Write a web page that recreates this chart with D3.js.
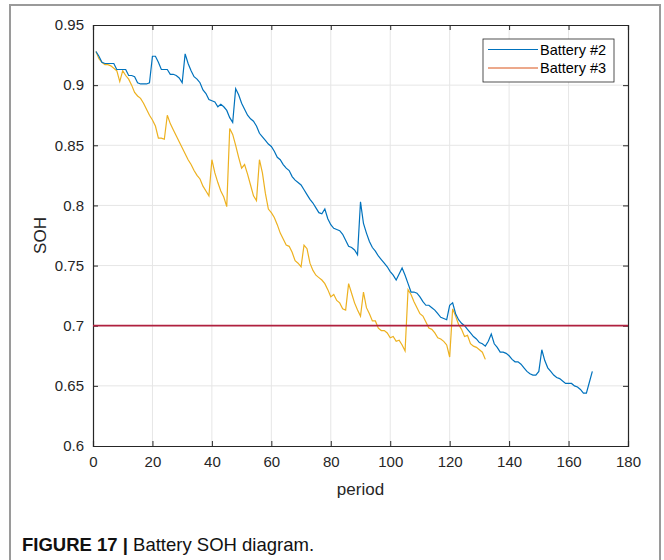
<!DOCTYPE html>
<html>
<head>
<meta charset="utf-8">
<script src="https://cdn.jsdelivr.net/npm/d3@7"></script>
<style>
  html, body { margin: 0; padding: 0; background: #fff; }
  svg { display: block; font-family: "Liberation Sans", Arial, Helvetica, sans-serif; }
</style>
</head>
<body>
<svg id="chart" width="664" height="560"></svg>
<script>
// Battery #2 SOH per period
const periods2 = d3.range(1, 169);
const soh2 = [
  0.928, 0.924, 0.919, 0.918, 0.918, 0.918, 0.918, 0.913, 0.913, 0.913,
  0.913, 0.908, 0.908, 0.907, 0.902, 0.901, 0.901, 0.901, 0.902, 0.924,
  0.924, 0.919, 0.913, 0.913, 0.913, 0.909, 0.909, 0.908, 0.906, 0.902,
  0.926, 0.918, 0.912, 0.907, 0.905, 0.902, 0.896, 0.893, 0.888, 0.887,
  0.886, 0.882, 0.884, 0.882, 0.879, 0.873, 0.869, 0.897, 0.892, 0.885,
  0.880, 0.875, 0.872, 0.870, 0.866, 0.860, 0.857, 0.854, 0.851, 0.849,
  0.845, 0.840, 0.838, 0.834, 0.831, 0.829, 0.824, 0.821, 0.819, 0.817,
  0.813, 0.809, 0.805, 0.802, 0.798, 0.794, 0.793, 0.797, 0.789, 0.784,
  0.781, 0.780, 0.779, 0.776, 0.771, 0.766, 0.765, 0.763, 0.759, 0.803,
  0.785, 0.777, 0.770, 0.765, 0.762, 0.758, 0.755, 0.752, 0.749, 0.745,
  0.742, 0.738, 0.743, 0.748, 0.742, 0.735, 0.728, 0.728, 0.727, 0.724,
  0.720, 0.717, 0.717, 0.715, 0.713, 0.710, 0.707, 0.706, 0.705, 0.717,
  0.719, 0.710, 0.705, 0.702, 0.700, 0.697, 0.694, 0.691, 0.689, 0.686,
  0.685, 0.683, 0.687, 0.693, 0.685, 0.682, 0.678, 0.678, 0.677, 0.675,
  0.672, 0.670, 0.670, 0.668, 0.665, 0.662, 0.660, 0.659, 0.659, 0.662,
  0.680, 0.671, 0.665, 0.662, 0.659, 0.657, 0.656, 0.654, 0.652, 0.652,
  0.652, 0.650, 0.649, 0.647, 0.644, 0.644, 0.653, 0.662
];

// Battery #3 SOH per period
const periods3 = d3.range(1, 133);
const soh3 = [
  0.928, 0.922, 0.919, 0.917, 0.917, 0.916, 0.914, 0.912, 0.903, 0.912,
  0.908, 0.905, 0.900, 0.894, 0.891, 0.889, 0.885, 0.880, 0.875, 0.871,
  0.866, 0.856, 0.856, 0.855, 0.875, 0.868, 0.863, 0.858, 0.853, 0.848,
  0.843, 0.838, 0.834, 0.829, 0.825, 0.822, 0.816, 0.812, 0.808, 0.838,
  0.827, 0.819, 0.812, 0.807, 0.799, 0.864, 0.859, 0.850, 0.840, 0.831,
  0.834, 0.826, 0.817, 0.808, 0.804, 0.838, 0.827, 0.810, 0.797, 0.794,
  0.790, 0.784, 0.777, 0.772, 0.767, 0.766, 0.761, 0.754, 0.752, 0.749,
  0.767, 0.764, 0.752, 0.746, 0.742, 0.740, 0.738, 0.735, 0.730, 0.724,
  0.726, 0.721, 0.719, 0.714, 0.713, 0.735, 0.727, 0.719, 0.713, 0.708,
  0.728, 0.715, 0.710, 0.704, 0.704, 0.698, 0.696, 0.696, 0.694, 0.690,
  0.691, 0.687, 0.688, 0.684, 0.679, 0.730, 0.726, 0.720, 0.715, 0.710,
  0.708, 0.703, 0.698, 0.697, 0.694, 0.690, 0.689, 0.687, 0.684, 0.674,
  0.714, 0.708, 0.701, 0.697, 0.691, 0.692, 0.685, 0.683, 0.682, 0.680,
  0.678, 0.672
];

// 0.7 threshold
const threshold = 0.7;

const xTicks = [0, 20, 40, 60, 80, 100, 120, 140, 160, 180];
const yTicks = [0.6, 0.65, 0.7, 0.75, 0.8, 0.85, 0.9, 0.95];
const yTickLabels = ["0.6", "0.65", "0.7", "0.75", "0.8", "0.85", "0.9", "0.95"];

const legendNames = ["Battery #2", "Battery #3"];
const legendColors = ["#0072BD", "#D95319"];

const svg = d3.select("#chart");

// figure frame
svg.append("path")
  .attr("d", "M10,566 L10,5 L660,5 L660,566")
  .attr("fill", "none")
  .attr("stroke", "#9a9a9a")
  .attr("stroke-width", 2);

const pLeft = 93, pRight = 628, pTop = 25, pBottom = 446;
const x = d3.scaleLinear().domain([0, 180]).range([pLeft, pRight]);
const y = d3.scaleLinear().domain([0.6, 0.95]).range([pBottom, pTop]);

// grid
const grid = svg.append("g").attr("stroke", "#e6e6e6").attr("stroke-width", 1);
xTicks.slice(1, -1).forEach(t => {
  grid.append("line").attr("x1", x(t)).attr("x2", x(t)).attr("y1", pTop).attr("y2", pBottom);
});
yTicks.slice(1, -1).forEach(t => {
  grid.append("line").attr("x1", pLeft).attr("x2", pRight).attr("y1", y(t)).attr("y2", y(t));
});

// axes
const xAxis = d3.axisBottom(x).tickValues(xTicks).tickSize(-5).tickPadding(10).tickFormat(d3.format("d"));
const yAxis = d3.axisLeft(y).tickValues(yTicks).tickSize(-5).tickPadding(9)
  .tickFormat((d, i) => yTickLabels[i]);
const xTopAxis = d3.axisTop(x).tickValues(xTicks).tickSize(-5).tickFormat("");
const yRightAxis = d3.axisRight(y).tickValues(yTicks).tickSize(-5).tickFormat("");

function styleAxis(g) {
  g.select(".domain").attr("stroke", "#262626").attr("stroke-width", 1.2);
  g.selectAll(".tick line").attr("stroke", "#262626");
  g.selectAll(".tick text").attr("fill", "#262626").attr("font-size", 15)
    .attr("font-family", "'Liberation Sans', Arial, sans-serif");
}

svg.append("g").attr("transform", `translate(0,${pBottom})`).call(xAxis).call(styleAxis);
svg.append("g").attr("transform", `translate(${pLeft},0)`).call(yAxis).call(styleAxis);
svg.append("g").attr("transform", `translate(0,${pTop})`).call(xTopAxis).call(styleAxis);
svg.append("g").attr("transform", `translate(${pRight},0)`).call(yRightAxis).call(styleAxis);

// data lines
const line = d3.line().x(d => x(d[0])).y(d => y(d[1]));
svg.append("clipPath").attr("id", "plotclip")
  .append("rect").attr("x", pLeft).attr("y", pTop).attr("width", pRight - pLeft).attr("height", pBottom - pTop);
const plot = svg.append("g").attr("clip-path", "url(#plotclip)");

plot.append("path")
  .datum(periods3.map((p, i) => [p, soh3[i]]))
  .attr("d", line).attr("fill", "none").attr("stroke", "#EDB120").attr("stroke-width", 1.2);

plot.append("path")
  .datum(periods2.map((p, i) => [p, soh2[i]]))
  .attr("d", line).attr("fill", "none").attr("stroke", "#0072BD").attr("stroke-width", 1.2);

plot.append("line")
  .attr("x1", x(0)).attr("x2", x(180)).attr("y1", y(threshold)).attr("y2", y(threshold))
  .attr("stroke", "#B0203F").attr("stroke-width", 1.8);

// axis titles
svg.append("text").attr("x", (pLeft + pRight) / 2).attr("y", 495)
  .attr("text-anchor", "middle").attr("font-size", 17).attr("fill", "#262626").text("period");
svg.append("text").attr("transform", `translate(46,${(pTop + pBottom) / 2}) rotate(-90)`)
  .attr("text-anchor", "middle").attr("font-size", 17).attr("fill", "#262626").text("SOH");

// legend
const lg = svg.append("g");
lg.append("rect").attr("x", 483).attr("y", 39).attr("width", 131).attr("height", 43)
  .attr("fill", "#fff").attr("stroke", "#262626").attr("stroke-width", 0.8);
legendNames.forEach((name, i) => {
  const ly = 49.5 + i * 18.5;
  lg.append("line").attr("x1", 488).attr("x2", 538).attr("y1", ly).attr("y2", ly)
    .attr("stroke", legendColors[i]).attr("stroke-width", 1);
  lg.append("text").attr("x", 540).attr("y", ly + 5).attr("font-size", 14.5).attr("fill", "#000").text(name);
});

// caption
const cap = svg.append("text").attr("x", 22).attr("y", 551).attr("font-size", 18.5).attr("fill", "#111");
cap.append("tspan").attr("font-weight", "bold").text("FIGURE 17 | ");
cap.append("tspan").text("Battery SOH diagram.");
</script>
</body>
</html>
